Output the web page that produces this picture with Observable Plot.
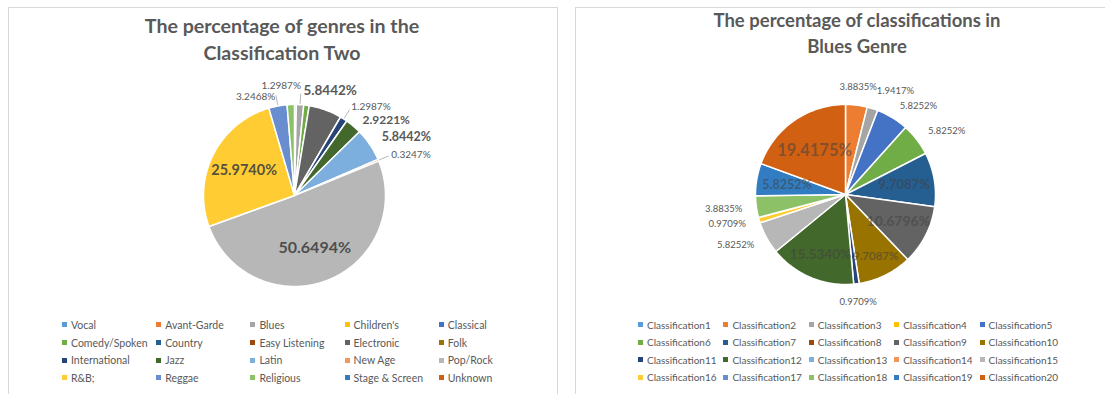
<!DOCTYPE html>
<html><head><meta charset="utf-8">
<script src="https://cdn.jsdelivr.net/npm/d3@7"></script>
<script src="https://cdn.jsdelivr.net/npm/@observablehq/plot@0.6"></script>
<style>
body{margin:0;background:#fff;font-family:Lato,"Open Sans",sans-serif;}
#root{position:relative;width:1105px;height:394px;overflow:hidden;background:#fff;}
.panel{position:absolute;border:1px solid #d9d9d9;box-sizing:border-box;background:#fff;}
.title{position:absolute;text-align:center;color:#595959;font-weight:bold;white-space:nowrap;}
.item{position:absolute;white-space:nowrap;display:flex;align-items:center;color:#595959;}
.sw{width:5px;height:5px;margin-right:4px;display:inline-block;flex:none;}
.plot{position:absolute;}
</style></head><body><div id="root"></div>
<script>
// ---------- DATA ----------
const genres = ["Vocal","Avant-Garde","Blues","Children's","Classical","Comedy/Spoken","Country","Easy Listening","Electronic","Folk","International","Jazz","Latin","New Age","Pop/Rock","R&B;","Reggae","Religious","Stage & Screen","Unknown"];
const genreShare = [0.3247,0,1.2987,0,0,0.9740,0,0,5.8442,0,1.2987,2.9221,5.8442,0.3247,50.6494,25.9740,3.2468,1.2987,0,0];
const genreLabelled = ["Blues","Electronic","International","Jazz","Latin","New Age","Pop/Rock","R&B;","Reggae"];

const classes = ["Classification1","Classification2","Classification3","Classification4","Classification5","Classification6","Classification7","Classification8","Classification9","Classification10","Classification11","Classification12","Classification13","Classification14","Classification15","Classification16","Classification17","Classification18","Classification19","Classification20"];
const classShare = [0,3.8835,1.9417,0,5.8252,5.8252,9.7087,0,10.6796,9.7087,0.9709,15.5340,0,0,5.8252,0.9709,0,3.8835,5.8252,19.4175];
const classLabelled = ["Classification2","Classification3","Classification5","Classification6","Classification7","Classification9","Classification10","Classification11","Classification12","Classification15","Classification16","Classification18","Classification19","Classification20"];

const titles = {
  left: ["The percentage of genres in the","Classification Two"],
  right: ["The percentage of classifications in","Blues Genre"]
};

// ---------- STYLE ----------
const palette = ["#5B9BD5","#ED7D31","#A5A5A5","#FFC000","#4472C4","#70AD47","#255E91","#9E480E","#636363","#997300","#264478","#43682B","#7CAFDD","#F1975A","#B7B7B7","#FFCD33","#698ED0","#8CC168","#327DC2","#D26012"];
const leftStyle = {
  inside: ["Pop/Rock","R&B;"],
  bold: ["Electronic","Jazz","Latin","Pop/Rock","R&B;"],
  sizes: {"Electronic":13.5,"Jazz":12,"Latin":12.5,"Pop/Rock":16,"R&B;":14.5},
  anchors: {"Blues":"end","Electronic":"middle"},
  insideRadii: {},
  outsideSize: 10, gap: 14, insideR: 0.62, leaders: true,
  insideFill: "#404040", insideOpacity: 0.9
};
const rightStyle = {
  inside: ["Classification7","Classification9","Classification10","Classification12","Classification19","Classification20"],
  bold: ["Classification7","Classification9","Classification10","Classification12","Classification19","Classification20"],
  sizes: {"Classification7":13,"Classification9":14,"Classification10":11.5,"Classification12":13.5,"Classification19":12.5,"Classification20":16.5},
  anchors: {},
  insideRadii: {"Classification10":0.76,"Classification12":0.72,"Classification20":0.6},
  outsideSize: 9.5, gap: 14, insideR: 0.66, leaders: false,
  insideFill: "#404040", insideOpacity: 0.55
};

const root = document.getElementById("root");
function el(tag, cls, css){const e=document.createElement(tag); if(cls) e.className=cls; Object.assign(e.style, css||{}); root.appendChild(e); return e;}

function renderPie(names, values, labelled, st, geo) {
  const {R, cx, cy, W, H} = geo;
  const data = names.map((name,i)=>({name, value: values[i]}));
  const arcs = d3.pie().sort(null).value(d=>d.value)(data).filter(a=>a.data.value>0);
  const pts = [];
  for (const a of arcs) {
    const n = Math.max(2, Math.ceil((a.endAngle-a.startAngle)*180/Math.PI));
    pts.push({name:a.data.name, x:0, y:0});
    for (let k=0;k<=n;k++){const t=a.startAngle+(a.endAngle-a.startAngle)*k/n; pts.push({name:a.data.name, x:Math.sin(t), y:-Math.cos(t)});}
  }
  const labels=[], links=[];
  for (const a of arcs) {
    const name=a.data.name; if(!labelled.includes(name)) continue;
    const m=(a.startAngle+a.endAngle)/2, s=Math.sin(m), c=Math.cos(m);
    const size = st.sizes[name] ?? st.outsideSize;
    const text = a.data.value.toFixed(4)+"%";
    const bold = st.bold.includes(name);
    if (st.inside.includes(name)) {
      const ri = st.insideRadii[name] ?? st.insideR;
      labels.push({name,text,size,inside:true,anchor:"middle",bold,x:s*ri,y:-c*ri}); continue;
    }
    const ro = 1+st.gap/R;
    const anchor = st.anchors[name] ?? (s>0.15?"start":s<-0.15?"end":"middle");
    let x=s*ro, y=-c*ro;
    if (Math.abs(s)<0.4) y -= c*(size*0.5)/R;
    labels.push({name,text,size,inside:false,anchor,bold,x,y});
    if (st.leaders && !bold) links.push({x1:s*1.01,y1:-c*1.01,x2:s*(1+(st.gap-3)/R),y2:-c*(1+(st.gap-3)/R)});
  }
  for (const side of ["start","end"]) {
    const arr = labels.filter(l=>!l.inside && l.anchor===side).sort((a,b)=>a.y-b.y);
    for (let i=1;i<arr.length;i++){ const g=(arr[i].size+arr[i-1].size)/2*1.15/R; if(arr[i].y-arr[i-1].y<g) arr[i].y=arr[i-1].y+g; }
  }
  const marks = [
    Plot.line(pts, {x:"x", y:"y", z:"name", fill:"name", stroke:"#fff", strokeWidth:1.5, curve:"linear-closed"}),
    Plot.link(links, {x1:"x1",y1:"y1",x2:"x2",y2:"y2", stroke:"#a6a6a6", strokeWidth:0.8})
  ];
  for (const anchor of ["start","middle","end"]) for (const b of [false,true]) for (const ins of [false,true]) {
    const sub = labels.filter(l=>l.anchor===anchor && l.bold===b && l.inside===ins);
    if (!sub.length) continue;
    marks.push(Plot.text(sub, {x:"x", y:"y", text:"text", fontSize:d=>d.size, textAnchor:anchor,
      fontWeight: b?"bold":"normal", fill: ins?st.insideFill:"#595959", fillOpacity: ins?st.insideOpacity:1}));
  }
  return Plot.plot({
    width: W, height: H, margin: 0,
    x: {domain:[-cx/R,(W-cx)/R], range:[0,W], axis:null},
    y: {domain:[-cy/R,(H-cy)/R], range:[0,H], axis:null},
    color: {type:"ordinal", domain:names, range:palette},
    style: {background:"transparent", fontFamily:"Lato, 'Open Sans', sans-serif", overflow:"visible"},
    marks
  });
}

function addLegend(chart, names, {x0, colW, y0, rowH, fontSize, cols}) {
  const color = Plot.scale({color: chart.scale("color")});
  names.forEach((n,i)=>{
    const r=Math.floor(i/cols), c=i%cols;
    const d=el("div","item",{left:(x0+c*colW)+"px", top:(y0+r*rowH-rowH/2)+"px", height:rowH+"px", fontSize:fontSize+"px"});
    const sw=document.createElement("span"); sw.className="sw"; sw.style.background=color.apply(n); d.appendChild(sw);
    d.appendChild(document.createTextNode(n));
  });
}

function addTitle(lines, {cx, y1, lh, fontSize}) {
  const t = el("div","title",{left:(cx-250)+"px", width:"500px", top:(y1-lh/2)+"px", lineHeight:lh+"px", fontSize:fontSize+"px"});
  lines.forEach((l,i)=>{ if(i) t.appendChild(document.createElement("br")); t.appendChild(document.createTextNode(l)); });
}

// panels
el("div","panel",{left:"8px", top:"7px", width:"550px", height:"400px"});
el("div","panel",{left:"575px", top:"7px", width:"540px", height:"400px"});

addTitle(titles.left, {cx:282, y1:25, lh:27, fontSize:19.6});
addTitle(titles.right, {cx:857, y1:21, lh:25.5, fontSize:18.5});

const leftChart = renderPie(genres, genreShare, genreLabelled, leftStyle, {R:91, cx:285, cy:135, W:548, H:250});
leftChart.classList.add("plot"); leftChart.style.left="9px"; leftChart.style.top="60px"; root.appendChild(leftChart);
const rightChart = renderPie(classes, classShare, classLabelled, rightStyle, {R:90, cx:269, cy:134, W:528, H:250});
rightChart.classList.add("plot"); rightChart.style.left="576px"; rightChart.style.top="60px"; root.appendChild(rightChart);

addLegend(leftChart, genres, {x0:62, colW:94.2, y0:325, rowH:17.6, fontSize:10.5, cols:5});
addLegend(rightChart, classes, {x0:638, colW:85.4, y0:325, rowH:17.4, fontSize:10, cols:5});
</script></body></html>
